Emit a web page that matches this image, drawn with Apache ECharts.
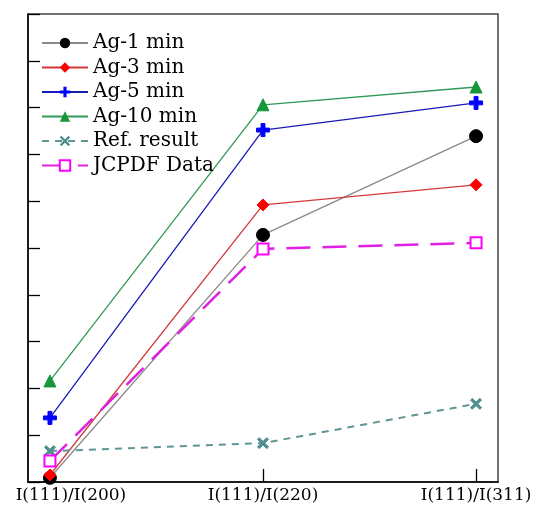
<!DOCTYPE html>
<html>
<head>
<meta charset="utf-8">
<script src="https://cdn.jsdelivr.net/npm/echarts@6/dist/echarts.min.js"></script>
<style>
  html, body { margin: 0; padding: 0; background: #fff; }
  #main { width: 533px; height: 510px; }
</style>
</head>
<body>
<div id="main"></div>
<script>
var chartDom = document.getElementById('main');
var myChart = echarts.init(chartDom);

// categories on the x axis
var categories = ['I(111)/I(200)', 'I(111)/I(220)', 'I(111)/I(311)'];

// values (y axis has no labels, 0..10 scale)
var ag1 = [0.09, 5.28, 7.39];
var ag3 = [0.15, 5.92, 6.35];
var ag5 = [1.37, 7.52, 8.10];
var ag10 = [2.16, 8.06, 8.44];
var refResult = [0.66, 0.83, 1.67];
var jcpdf = [0.45, 4.98, 5.11];

var serif = 'DejaVu Serif';
var plusPath = 'path://M3.5,0H6.5V3.5H10V6.5H6.5V10H3.5V6.5H0V3.5H3.5Z';
var crossPath = 'path://M0,1.6L1.6,0L5,3.4L8.4,0L10,1.6L6.6,5L10,8.4L8.4,10L5,6.6L1.6,10L0,8.4L3.4,5Z';

function toPoints(values) {
    return values.map((v, i) => [i, v]);
}

function makeSeries(name, values, lineColor, symColor, symbol, size, lineType, lineWidth) {
    return {
        name: name,
        type: 'line',
        data: toPoints(values),
        symbol: symbol,
        symbolSize: size,
        showAllSymbol: true,
        lineStyle: { color: lineColor, width: lineWidth || 1.3, type: lineType || 'solid' },
        itemStyle: { color: symColor, borderColor: symColor },
        emphasis: { disabled: true }
    };
}

var series = [
    makeSeries('Ag-1 min', ag1, '#8a8a8a', '#000000', 'circle', 13),
    makeSeries('Ag-3 min', ag3, '#d23a3a', '#ff0000', 'diamond', 12),
    makeSeries('Ag-5 min', ag5, '#1a1ab8', '#0000ff', plusPath, 13),
    makeSeries('Ag-10 min', ag10, '#2f9a55', '#17963a', 'triangle', 12),
    makeSeries('Ref. result', refResult, '#5f9595', '#4f8f8f', crossPath, 11, [7, 6], 2),
    makeSeries('JCPDF Data', jcpdf, '#e020e0', '#ff00ff', 'emptyRect', 11, [24, 12], 2.5)
];
series[5].itemStyle.borderWidth = 2.5;

var option = {
    animation: false,
    backgroundColor: '#ffffff',
    grid: {
        left: 28, top: 14, right: 35, bottom: 28,
        outerBoundsMode: 'none',
        show: true, borderColor: '#444', borderWidth: 1.5, backgroundColor: 'transparent'
    },
    legend: {
        orient: 'vertical',
        left: 41, top: 33,
        padding: 0,
        itemWidth: 46, itemHeight: 13, itemGap: 4.5,
        textStyle: { fontFamily: serif, fontSize: 20, color: '#000', lineHeight: 20 },
        data: series.map(s => s.name)
    },
    xAxis: {
        type: 'value',
        min: -0.103, max: 2.103,
        splitLine: { show: false },
        axisLine: { lineStyle: { color: '#000', width: 1.5 } },
        axisTick: { inside: true, length: 13, customValues: [0, 1, 2], lineStyle: { color: '#000', width: 1.3 } },
        axisLabel: {
            customValues: [0, 1, 2],
            formatter: function (v) {
                var i = Math.round(v);
                return i === 0 ? '{first|' + categories[i] + '}' : categories[i];
            },
            rich: {
                first: { fontFamily: serif, fontSize: 17, color: '#000', padding: [0, 0, 0, 42] }
            },
            fontFamily: serif, fontSize: 17, color: '#000', margin: 5
        }
    },
    yAxis: {
        type: 'value',
        min: 0, max: 10, interval: 1,
        splitLine: { show: false },
        axisLine: { show: true, onZero: false, lineStyle: { color: '#000', width: 1.5 } },
        axisTick: { show: true, inside: true, length: 12, lineStyle: { color: '#000', width: 1.3 } },
        axisLabel: { show: false }
    },
    series: series
};
option && myChart.setOption(option);
</script>
</body>
</html>
